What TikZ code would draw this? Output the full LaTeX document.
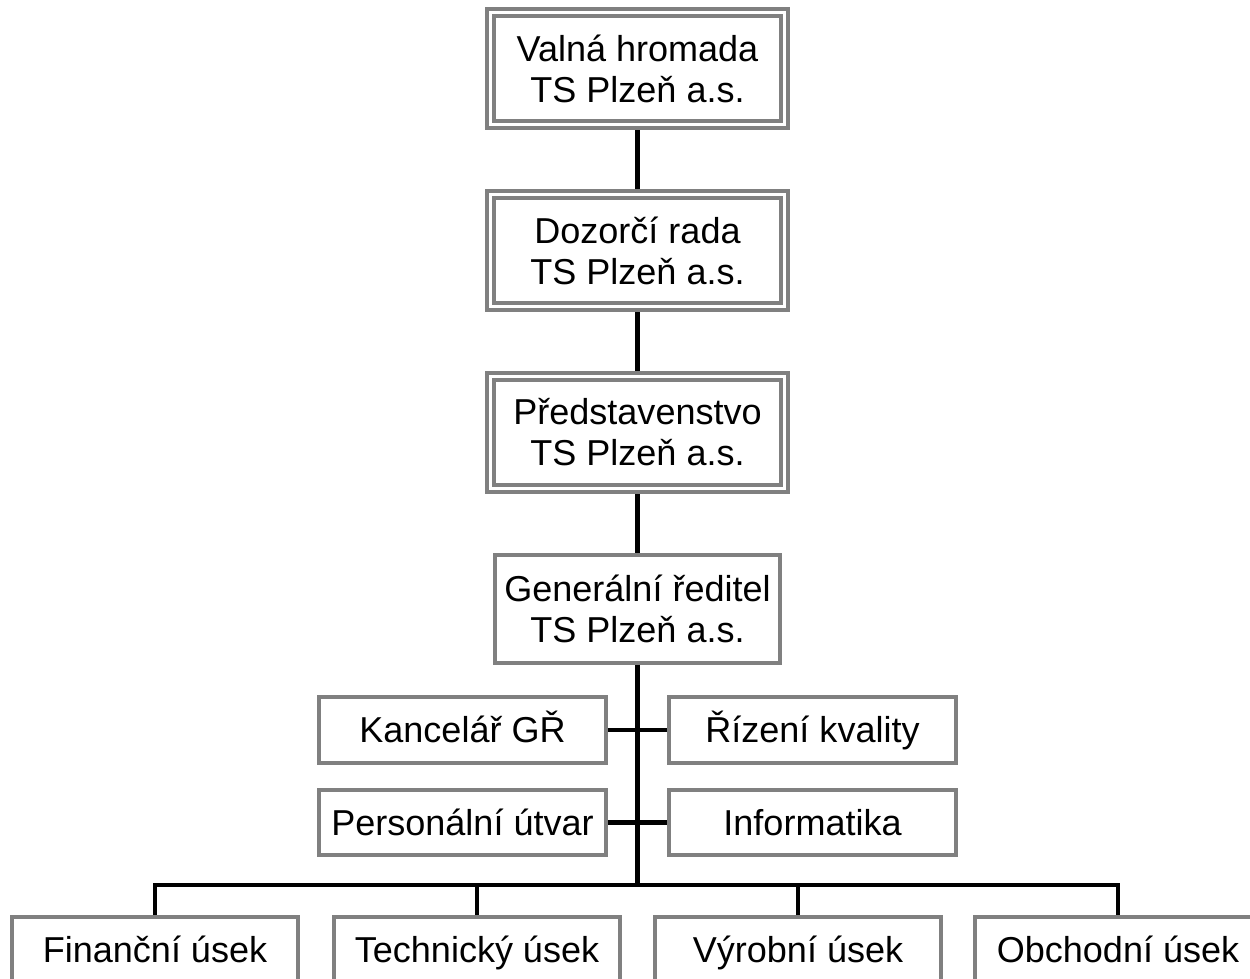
\documentclass[tikz,border=0pt]{standalone}
\usepackage{fontspec}
\setmainfont{Liberation Sans}
\definecolor{boxgray}{RGB}{128,128,128}

\begin{document}
\begin{tikzpicture}[
        font=\fontsize{20.5}{23.3}\selectfont,
        board node/.style={draw=boxgray, line width=2.2pt, double=white, double distance=1.6pt, outer sep=3pt, fill=white, align=center, inner sep=0pt, minimum width=5.89cm, minimum height=2.25cm},
        head node/.style={draw=boxgray, line width=2.5pt, fill=white, align=center, inner sep=0pt, minimum width=5.71cm, minimum height=2.15cm},
        staff node/.style={draw=boxgray, line width=2.5pt, fill=white, inner sep=0pt, minimum width=5.73cm, minimum height=1.31cm, text height=14.6pt, text depth=0pt},
        dept node/.style={staff node, minimum width=5.71cm},
        link/.style={draw=black, line width=2.3pt}
    ]
    \clip (0,0) rectangle (25,-19.58);

    % Company bodies
    \node[board node] (valna) at (12.75,-1.37) {Valná hromada\\TS Plzeň a.s.};
    \node[board node] (dozorci) at (12.75,-5.01) {Dozorčí rada\\TS Plzeň a.s.};
    \node[board node] (predstavenstvo) at (12.75,-8.65) {Představenstvo\\TS Plzeň a.s.};
    \node[head node] (reditel) at (12.75,-12.18) {Generální ředitel\\TS Plzeň a.s.};

    % Staff units
    \node[staff node] (kancelar) at (9.25,-14.6) {Kancelář GŘ};
    \node[staff node] (rizeni) at (16.25,-14.6) {Řízení kvality};
    \node[staff node] (personalni) at (9.25,-16.45) {Personální útvar};
    \node[staff node] (informatika) at (16.25,-16.45) {Informatika};

    % Divisions
    \node[dept node] (financni) at (3.1,-19.0) {Finanční úsek};
    \node[dept node] (technicky) at (9.54,-19.0) {Technický úsek};
    \node[dept node] (vyrobni) at (15.96,-19.0) {Výrobní úsek};
    \node[dept node] (obchodni) at (22.36,-19.0) {Obchodní úsek};

    \coordinate (bus) at (12.75,-17.7);

    % Main line
    \draw[link] (valna) -- (dozorci);
    \draw[link] (dozorci) -- (predstavenstvo);
    \draw[link] (predstavenstvo) -- (reditel);
    \draw[link] (reditel.south) -- (bus);

    % Staff branches
    \draw[link] (kancelar) -- (rizeni);
    \draw[link] (personalni) -- (informatika);

    % Division branches
    \draw[link] (financni.north) |- (bus) -| (obchodni.north);
    \draw[link] (technicky.north) -- (technicky.north |- bus);
    \draw[link] (vyrobni.north) -- (vyrobni.north |- bus);

\end{tikzpicture}
\end{document}
